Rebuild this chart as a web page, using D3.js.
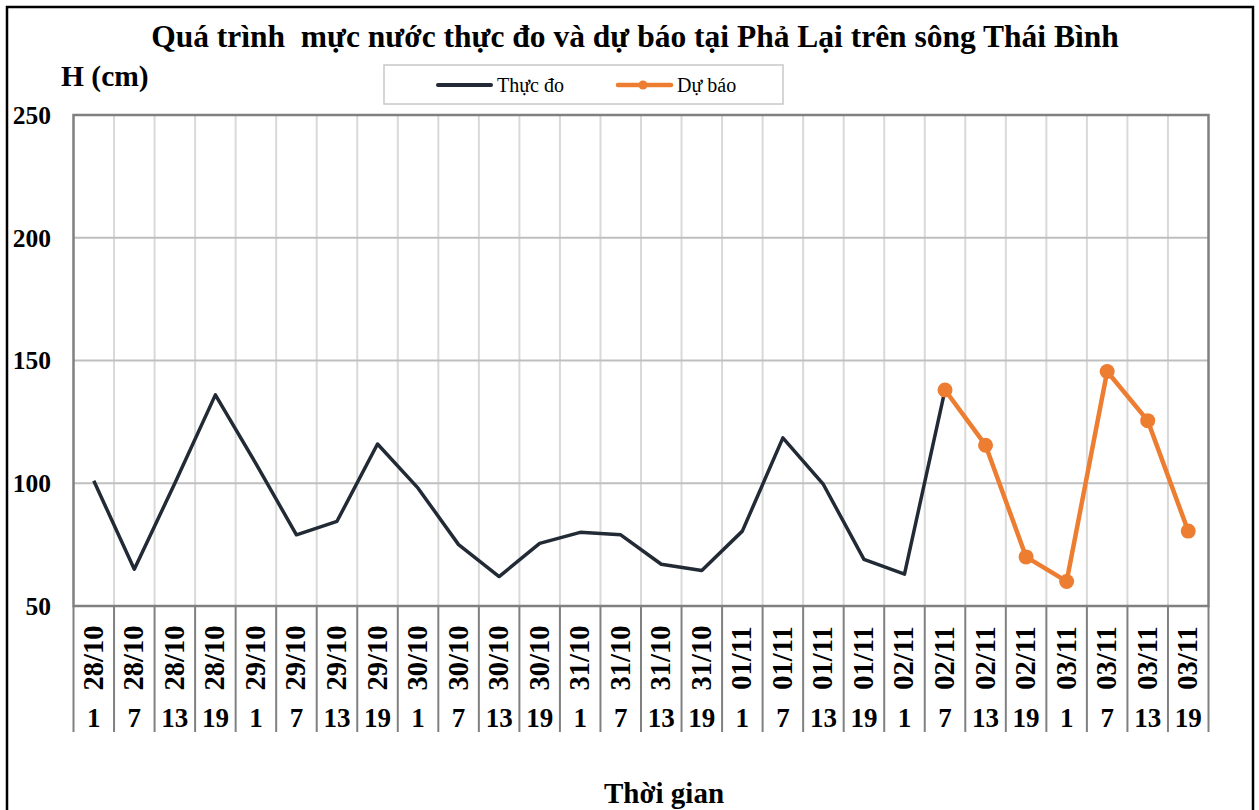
<!DOCTYPE html>
<html><head><meta charset="utf-8">
<script src="https://cdn.jsdelivr.net/npm/d3@7"></script>
<style>
html,body{margin:0;padding:0;background:#fff;}
svg{display:block;font-family:"Liberation Serif","Times New Roman",serif;}
</style></head>
<body><svg id="c" width="1259" height="810"></svg>
<script>
const dates = ["28/10","28/10","28/10","28/10","29/10","29/10","29/10","29/10","30/10","30/10","30/10","30/10","31/10","31/10","31/10","31/10","01/11","01/11","01/11","01/11","02/11","02/11","02/11","02/11","03/11","03/11","03/11","03/11"];
const hours = ["1","7","13","19","1","7","13","19","1","7","13","19","1","7","13","19","1","7","13","19","1","7","13","19","1","7","13","19"];
const actual = [101,65,100,136,108,79,84.5,116,98,75,62,75.5,80,79,67,64.5,80.5,118.5,99.5,69,63,138,null,null,null,null,null,null];
const forecast = [null,null,null,null,null,null,null,null,null,null,null,null,null,null,null,null,null,null,null,null,null,138,115.5,70,60,145.5,125.5,80.5];
const yTicks = [50,100,150,200,250];
const titleText = "Quá trình  mực nước thực đo và dự báo tại Phả Lại trên sông Thái Bình";
const yTitle = "H (cm)";
const xTitle = "Thời gian";
const legendNames = ["Thực đo","Dự báo"];

const svg = d3.select("#c");
const L = 73.5, R = 1208.5, T = 115, B = 606;
const idx = d3.range(dates.length);
const x = d3.scaleBand().domain(idx).range([L, R]).padding(0);
const y = d3.scaleLinear().domain([50, 250]).range([B, T]);
const cx = i => x(i) + x.bandwidth() / 2;

// outer border
svg.append("rect").attr("x", 7).attr("y", 7).attr("width", 1246).attr("height", 820)
  .attr("fill", "none").attr("stroke", "#000").attr("stroke-width", 2.5);

// vertical gridlines
svg.append("g").selectAll("line").data(d3.range(1, dates.length)).join("line")
  .attr("x1", i => x(i)).attr("x2", i => x(i)).attr("y1", T).attr("y2", B)
  .attr("stroke", "#d9d9d9").attr("stroke-width", 2);
// horizontal gridlines
svg.append("g").selectAll("line").data(yTicks.filter(v => v > 50 && v < 250)).join("line")
  .attr("x1", L).attr("x2", R).attr("y1", d => y(d)).attr("y2", d => y(d))
  .attr("stroke", "#bfbfbf").attr("stroke-width", 2);

// plot border
svg.append("rect").attr("x", L).attr("y", T).attr("width", R - L).attr("height", B - T)
  .attr("fill", "none").attr("stroke", "#808080").attr("stroke-width", 2.5);

// category separators under axis
svg.append("g").selectAll("line").data(d3.range(0, dates.length + 1)).join("line")
  .attr("x1", i => i < dates.length ? x(i) : R).attr("x2", i => i < dates.length ? x(i) : R)
  .attr("y1", B).attr("y2", 732)
  .attr("stroke", "#808080").attr("stroke-width", 2);

// y tick labels
svg.append("g").selectAll("text").data(yTicks).join("text")
  .attr("x", 51).attr("y", d => y(d)).attr("dy", "0.35em")
  .attr("text-anchor", "end").attr("font-weight", "bold").attr("font-size", 25.5)
  .text(d => d);

// date labels (rotated)
svg.append("g").selectAll("text").data(idx).join("text")
  .attr("transform", i => `translate(${cx(i) + 9},658) rotate(-90)`)
  .attr("text-anchor", "middle").attr("font-weight", "bold").attr("font-size", 28.5)
  .text(i => dates[i]);
// hour labels
svg.append("g").selectAll("text").data(idx).join("text")
  .attr("x", i => cx(i)).attr("y", 727)
  .attr("text-anchor", "middle").attr("font-weight", "bold").attr("font-size", 27)
  .text(i => hours[i]);

// lines
const line = d3.line().defined(d => d.v != null).x(d => cx(d.i)).y(d => y(d.v));
svg.append("path").datum(actual.map((v, i) => ({i, v})))
  .attr("d", line).attr("fill", "none").attr("stroke", "#222a35").attr("stroke-width", 3.5)
  .attr("stroke-linejoin", "round");
const fdata = forecast.map((v, i) => ({i, v}));
svg.append("path").datum(fdata)
  .attr("d", line).attr("fill", "none").attr("stroke", "#ed7d31").attr("stroke-width", 4.5)
  .attr("stroke-linejoin", "round");
svg.append("g").selectAll("circle").data(fdata.filter(d => d.v != null)).join("circle")
  .attr("cx", d => cx(d.i)).attr("cy", d => y(d.v)).attr("r", 7.5).attr("fill", "#ed7d31");

// title
svg.append("text").attr("x", 635).attr("y", 47).attr("text-anchor", "middle")
  .attr("font-weight", "bold").attr("font-size", 31.5).attr("xml:space", "preserve")
  .style("white-space", "pre").text(titleText);
// y title
svg.append("text").attr("x", 61).attr("y", 86).attr("font-weight", "bold").attr("font-size", 29.5)
  .text(yTitle);
// x title
svg.append("text").attr("x", 664).attr("y", 803).attr("text-anchor", "middle")
  .attr("font-weight", "bold").attr("font-size", 29).text(xTitle);

// legend
const lg = svg.append("g");
lg.append("rect").attr("x", 384).attr("y", 65).attr("width", 399).attr("height", 39)
  .attr("fill", "#fff").attr("stroke", "#c8c8c8").attr("stroke-width", 1.5);
lg.append("line").attr("x1", 438).attr("x2", 491).attr("y1", 85).attr("y2", 85)
  .attr("stroke", "#222a35").attr("stroke-width", 4).attr("stroke-linecap", "round");
lg.append("text").attr("x", 497).attr("y", 92).attr("font-size", 20).text(legendNames[0]);
lg.append("line").attr("x1", 618).attr("x2", 671).attr("y1", 85).attr("y2", 85)
  .attr("stroke", "#ed7d31").attr("stroke-width", 4.5).attr("stroke-linecap", "round");
lg.append("circle").attr("cx", 643).attr("cy", 85).attr("r", 4.5).attr("fill", "#ed7d31");
lg.append("text").attr("x", 677).attr("y", 92).attr("font-size", 20).text(legendNames[1]);
</script>
</body></html>
